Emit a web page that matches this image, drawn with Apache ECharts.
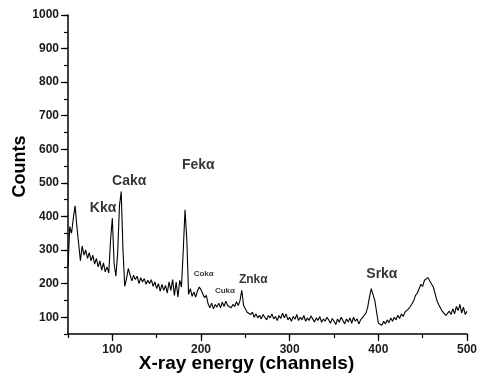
<!DOCTYPE html>
<html>
<head>
<meta charset="utf-8">
<script src="https://cdn.jsdelivr.net/npm/echarts@6/dist/echarts.min.js"></script>
<style>
  html, body { margin: 0; padding: 0; background: #fff; }
  #spectrum { width: 479px; height: 380px; }
</style>
</head>
<body>
<div id="spectrum"></div>
<script>
// channel 50 .. 500, one reading every 2 channels
var firstChannel = 50;
var channelStep = 2;
var counts = [
  250, 370, 350, 395, 432, 370, 320, 268, 312, 285,   // 50-68
  300, 275, 292, 268, 285, 258, 275, 250, 268, 240,   // 70-88
  262, 235, 250, 232, 330, 395, 260, 222, 290, 430,   // 90-108
  474, 300, 192, 215, 245, 226, 208, 225, 212, 222,   // 110-128
  200, 218, 205, 215, 198, 210, 200, 212, 192, 205,   // 130-148
  185, 200, 178, 198, 180, 195, 172, 205, 180, 212,   // 150-168
  165, 205, 160, 210, 190, 300, 420, 330, 168, 185,   // 170-188
  162, 175, 160, 178, 190, 182, 170, 158, 165, 140,   // 190-208
  128, 142, 125, 138, 130, 142, 128, 145, 132, 148,   // 210-228
  135, 140, 128, 138, 132, 146, 135, 150, 180, 135,   // 230-248
  125, 115, 112, 108, 115, 100, 110, 98, 106, 95,     // 250-268
  108, 100, 92, 105, 98, 110, 95, 102, 90, 105,       // 270-288
  96, 112, 98, 110, 92, 100, 88, 102, 94, 108,        // 290-308
  90, 100, 92, 105, 88, 98, 90, 104, 95, 86,          // 310-328
  98, 90, 102, 85, 95, 88, 100, 92, 82, 96,           // 330-348
  88, 78, 95, 85, 100, 90, 80, 95, 86, 98,            // 350-368
  82, 100, 88, 95, 80, 92, 98, 105, 112, 130,         // 370-388
  160, 185, 190, 150, 148, 82, 85, 76, 88, 80,        // 390-408
  92, 84, 98, 88, 100, 92, 106, 96, 110, 102,         // 410-428
  115, 110, 125, 132, 140, 150, 165, 172, 185, 198,   // 430-448
  192, 210, 205, 218, 208, 212, 190, 170, 150, 138,   // 450-468
  142, 118, 112, 105, 100, 118, 108, 125, 110, 132,   // 470-488
  120, 138, 112, 130, 108, 118                        // 490-500
];

var xTicks = [100, 200, 300, 400, 500];
var yTicks = [100, 200, 300, 400, 500, 600, 700, 800, 900, 1000];

// peak labels: text, channel and count at the label centre, font size
var peakNames  = ['Kk\u03b1', 'Cak\u03b1', 'Fek\u03b1', 'Cok\u03b1', 'Cuk\u03b1', 'Znk\u03b1', 'Srk\u03b1'];
var peakChan   = [89.5, 119, 197, 203, 227, 259, 404];
var peakCount  = [425, 504, 553, 230, 180, 212, 229];
var peakSize   = [14, 14, 14, 8, 8, 12, 14];

var seriesData = counts.map(function (c, i) {
  return [firstChannel + i * channelStep, c];
});

var peakData = peakNames.map(function (n, i) {
  return {
    value: [peakChan[i], peakCount[i]],
    label: { formatter: n, fontSize: peakSize[i] }
  };
});

var myChart = echarts.init(document.getElementById('spectrum'));

var FONT = 'Liberation Sans, Arial, sans-serif';
var tickFont = { fontFamily: FONT, fontWeight: 'bold', fontSize: 12, color: '#1a1a1a' };
var blackLine = { color: '#000', width: 1.5 };

option = {
  animation: false,
  backgroundColor: '#fff',
  grid: { left: 68, right: 12, top: 15, bottom: 46, outerBoundsMode: 'none' },
  xAxis: [
    {
      type: 'value', min: 50, max: 500, interval: 50,
      name: 'X-ray energy (channels)',
      nameLocation: 'middle',
      nameGap: 20,
      nameMoveOverlap: false,
      nameTextStyle: {
        fontFamily: FONT, fontWeight: 'bold', fontSize: 19, color: '#000',
        padding: [0, 42, 0, 0]
      },
      axisLine: { lineStyle: blackLine },
      axisTick: { length: 4, lineStyle: { color: '#000', width: 1.2 } },
      axisLabel: Object.assign({
        margin: 10,
        formatter: function (v) { return xTicks.indexOf(v) >= 0 ? v : ''; }
      }, tickFont),
      splitLine: { show: false }
    },
    {
      // longer ticks at the labelled values
      type: 'value', min: 50, max: 500, position: 'bottom', offset: 0,
      axisLine: { show: false },
      axisTick: { show: true, length: 7, customValues: xTicks, lineStyle: { color: '#000', width: 1.2 } },
      axisLabel: { show: false },
      splitLine: { show: false }
    }
  ],
  yAxis: [
    {
      type: 'value', min: 50, max: 1000, interval: 50,
      name: 'Counts',
      nameLocation: 'middle',
      nameGap: 39,
      nameMoveOverlap: false,
      nameRotate: 90,
      nameTextStyle: {
        fontFamily: FONT, fontWeight: 'bold', fontSize: 18, color: '#000',
        padding: [0, 0, 0, 16]
      },
      axisLine: { show: true, lineStyle: blackLine },
      axisTick: { show: true, length: 4, lineStyle: { color: '#000', width: 1.2 } },
      axisLabel: Object.assign({
        margin: 9,
        formatter: function (v) { return yTicks.indexOf(v) >= 0 ? v : ''; }
      }, tickFont),
      splitLine: { show: false }
    },
    {
      type: 'value', min: 50, max: 1000, position: 'left', offset: 0,
      axisLine: { show: false },
      axisTick: { show: true, length: 7, customValues: yTicks, lineStyle: { color: '#000', width: 1.2 } },
      axisLabel: { show: false },
      splitLine: { show: false }
    }
  ],
  series: [
    {
      type: 'line',
      data: seriesData,
      symbol: 'none',
      lineStyle: { color: '#000', width: 1.1 },
      silent: true,
      z: 3
    },
    {
      type: 'scatter',
      data: peakData,
      symbolSize: 0,
      silent: true,
      label: {
        show: true,
        position: 'inside',
        fontFamily: FONT,
        fontWeight: 'bold',
        color: '#000'
      },
      z: 4
    }
  ]
};

myChart.setOption(option);
</script>
</body>
</html>
